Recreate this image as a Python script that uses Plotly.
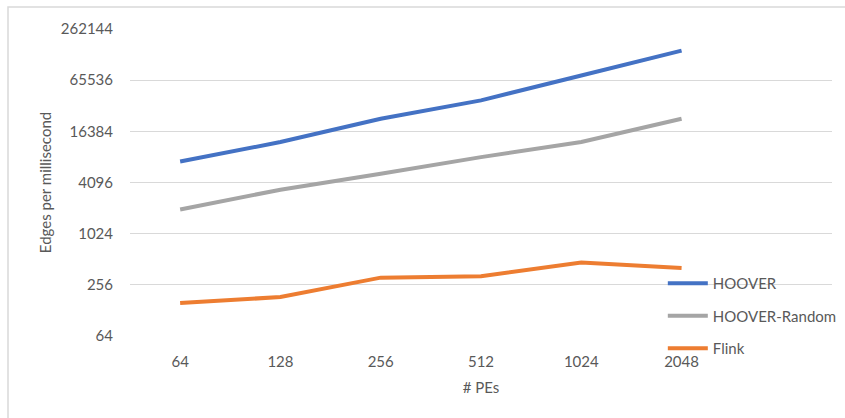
import plotly.graph_objects as go
import math

categories = ["64", "128", "256", "512", "1024", "2048"]
hoover = [7250, 12250, 23000, 37900, 74400, 146000]
hoover_random = [1975, 3370, 5200, 8150, 12250, 23000]
flink = [156, 184, 311, 324, 468, 405]
y_ticks = [64, 256, 1024, 4096, 16384, 65536, 262144]

FONT = "Lato"
TXT = "#595959"
GRID = "#d9d9d9"

fig = go.Figure()
series = [("HOOVER", hoover, "#4472C4"),
          ("HOOVER-Random", hoover_random, "#A5A5A5"),
          ("Flink", flink, "#ED7D31")]
for i, (name, vals, col) in enumerate(series):
    fig.add_trace(go.Scatter(x=categories, y=vals, name=name, mode="lines",
                             line=dict(color=col, width=4), legendgroup=f"g{i}"))

fig.update_layout(
    width=845, height=418,
    margin=dict(l=130, r=13, t=29, b=82, autoexpand=False),
    paper_bgcolor="white", plot_bgcolor="white",
    font=dict(family=FONT, color=TXT, size=15),
    showlegend=True,
    legend=dict(x=0.759, y=0.225, xanchor="left", yanchor="top",
                bgcolor="rgba(0,0,0,0)", font=dict(size=15, color=TXT, family=FONT),
                traceorder="grouped", tracegroupgap=10, itemwidth=40),
    xaxis=dict(type="category", categoryorder="array", categoryarray=categories,
               range=[-0.5, 6.5], showgrid=False, zeroline=False, showline=False,
               ticks="", ticklabelstandoff=15,
               tickfont=dict(size=15, color=TXT, family=FONT),
               title=dict(text="# PEs", font=dict(size=15, color=TXT, family=FONT), standoff=13)),
    yaxis=dict(type="log", range=[math.log10(64), math.log10(262144)],
               tickvals=y_ticks, ticktext=[str(v) for v in y_ticks],
               showgrid=True, gridcolor=GRID, gridwidth=1, zeroline=False, showline=False,
               ticks="", ticklabelstandoff=16,
               tickfont=dict(size=15, color=TXT, family=FONT),
               title=dict(text="Edges per millisecond", font=dict(size=15, color=TXT, family=FONT), standoff=5)),
)

# chart area border
fig.add_shape(type="rect", xref="paper", yref="paper",
              x0=(8 - 130) / 702, x1=1.2, y0=-0.5, y1=(336 - 7) / 307,
              line=dict(color=GRID, width=1.5), fillcolor="rgba(0,0,0,0)", layer="below")

fig.write_html("out.html")
